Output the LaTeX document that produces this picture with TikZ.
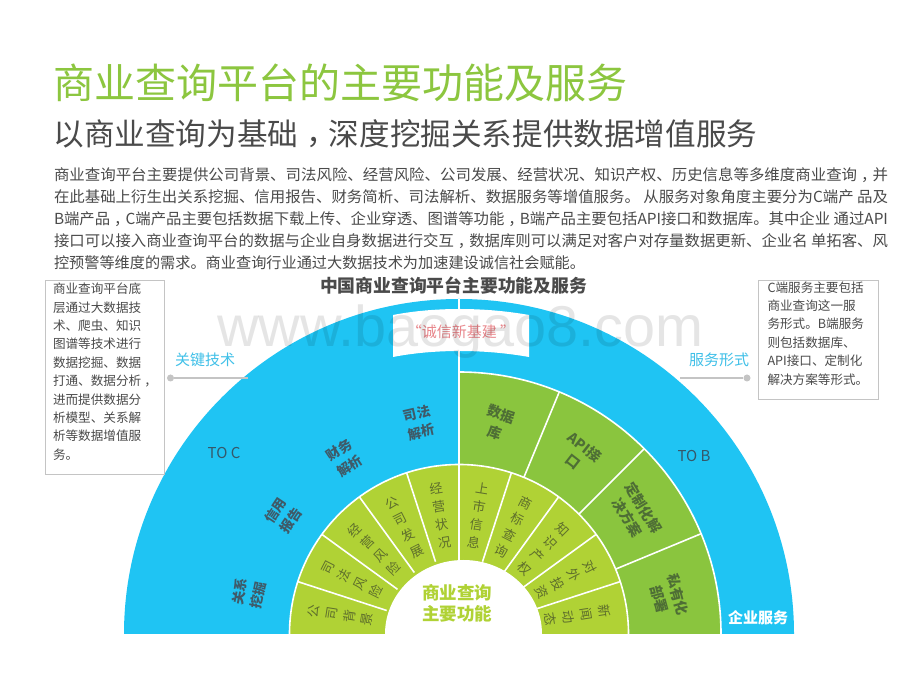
\documentclass[tikz,border=0pt]{standalone}
\usepackage{fontspec}
\setmainfont{Noto Sans CJK SC}
\newfontfamily\wmfont{Liberation Sans}
\newfontfamily\tcfont{Noto Sans CJK TC}
\usetikzlibrary{calc}
\definecolor{skyb}{HTML}{1FC4F3}
\definecolor{lime}{HTML}{B0D235}
\definecolor{leaf}{HTML}{8AC53E}
\definecolor{titleg}{HTML}{8CC63F}
\definecolor{ink}{HTML}{4A4A4A}
\definecolor{boxg}{HTML}{C4C4C4}
\definecolor{innertxt}{HTML}{5E6E2C}
\definecolor{bluetxt}{HTML}{3F5A68}
\definecolor{greentxt}{HTML}{4E6E35}
\definecolor{keyblue}{HTML}{3FC0E8}
\definecolor{totxt}{HTML}{35586A}
\definecolor{redtxt}{HTML}{E8858A}
\newcommand{\fsz}[2]{\fontsize{#1}{#2}\selectfont}
\newcommand{\fitline}[2][834pt]{\resizebox{#1}{\height}{#2}}
\newcommand{\cma}{\raisebox{-0.28em}[0pt][0pt]{\tcfont ，}}
\tikzset{
  x=1pt,y=1pt,
  txt/.style={inner sep=0pt,outer sep=0pt,text=ink},
  bodytxt/.style={txt,anchor=north west,align=left,font=\fsz{15.2}{22}},
  sidetxt/.style={txt,anchor=north west,align=left,font=\fsz{12.6}{18.4}},
  sidebox/.style={draw=boxg,line width=0.9pt,fill=white,inner sep=0pt,anchor=north west},
  radial/.style={inner sep=0pt,align=center,text=innertxt,font=\fsz{13}{18}},
  bluelab/.style={inner sep=0pt,align=center,text=bluetxt,font=\fsz{13.5}{19}\bfseries},
  greenlab/.style={inner sep=0pt,align=center,text=greentxt,font=\fsz{14}{19}\bfseries},
  sepline/.style={white,line width=1.6pt},
  lead/.style={boxg,line width=1.2pt},
  leaddot/.style={circle,fill=boxg,minimum size=7pt,inner sep=0pt},
  keylab/.style={inner sep=0pt,text=keyblue,font=\fsz{15}{18}},
  toto/.style={inner sep=0pt,text=totxt,font=\fsz{15}{18}},
}
\newcommand{\ringsector}[5]{% start, end, r1, r2, colour
  \fill[#5] (#1:#4pt) arc[start angle=#1,end angle=#2,radius=#4pt] -- (#2:#3pt) arc[start angle=#2,end angle=#1,radius=#3pt] -- cycle;}
\begin{document}
\begin{tikzpicture}
\useasboundingbox (0,0) rectangle (920,690);
\fill[white] (0,0) rectangle (920,690);
% headings
\node[txt,anchor=west,text=titleg,font=\fsz{41}{48}] (title) at (53,607) {商业查询平台的主要功能及服务};
\node[txt,anchor=west,font=\fsz{30.6}{36}] (subtitle) at (53.5,556.5) {以商业查询为基础\cma 深度挖掘关系提供数据增值服务};
\node[bodytxt] (body) at (54,522) {\fitline{商业查询平台主要提供公司背景、司法风险、经营风险、公司发展、经营状况、知识产权、历史信息等多维度商业查询\cma 并}\\
\fitline{在此基础上衍生出关系挖掘、信用报告、财务简析、司法解析、数据服务等增值服务。 从服务对象角度主要分为C端产 品及}\\
\fitline{B端产品\cma C端产品主要包括数据下载上传、企业穿透、图谱等功能\cma B端产品主要包括API接口和数据库。其中企业 通过API}\\
\fitline{接口可以接入商业查询平台的数据与企业自身数据进行交互\cma 数据库则可以满足对客户对存量数据更新、企业名 单拓客、风}\\
\fitline[531pt]{控预警等维度的需求。商业查询行业通过大数据技术为加速建设诚信社会赋能。}};
\node[txt,font=\fsz{17.8}{20}\bfseries] (chart) at (453.5,404) {中国商业查询平台主要功能及服务};
% fan
\coordinate (c) at (459,56);
\begin{scope}[shift={(c)}]
  \ringsector{0}{180}{169.5}{335}{skyb}
  \foreach \a in {67.5,45,22.5,0}{
    \pgfmathsetmacro{\b}{\a+22.5}
    \ringsector{\a}{\b}{169.5}{262}{leaf}
  }
  \ringsector{0}{180}{70}{169.5}{lime}
  \fill[white] (4.5,0) ellipse [x radius=78.5pt,y radius=74pt];
  % separators
  \draw[sepline] (90:335pt) -- (90:74pt);
  \foreach \a in {67.5,45,22.5} \draw[sepline] (\a:169.5pt) -- (\a:262pt);
  \draw[sepline] (0:262pt) arc[start angle=0,end angle=90,radius=262pt];
  \draw[sepline] (0:169.5pt) arc[start angle=0,end angle=180,radius=169.5pt];
  \foreach \a in {18,36,54,72,108,126,144,162}
    \draw[sepline] (\a:169.5pt) -- (\a:76pt);
  % banner
  \fill[white] (-66,319) .. controls (-25,327) and (25,327) .. (70,319) -- (70,277) .. controls (25,285) and (-25,285) .. (-66,277) -- cycle;
  \node[inner sep=0pt,text=redtxt,font=\fsz{15}{18}] (banner) at (2,302) {“诚信新基建 ”};
  % inner ring
  \node[radial,rotate=81] (i1) at (171:120pt) {公\\司\\背\\景};
  \node[radial,rotate=63] (i2) at (153:120pt) {司\\法\\风\\险};
  \node[radial,rotate=45] (i3) at (135:120pt) {经\\营\\风\\险};
  \node[radial,rotate=27] (i4) at (117:120pt) {公\\司\\发\\展};
  \node[radial,rotate=9] (i5) at (99:120pt) {经\\营\\状\\况};
  \node[radial,rotate=-9] (i6) at (81:120pt) {上\\市\\信\\息};
  \node[radial,rotate=-27] (i7) at (63:120pt) {商\\标\\查\\询};
  \node[radial,rotate=-45] (i8) at (45:120pt) {知\\识\\产\\权};
  \node[radial,rotate=-63] (i9) at (27:120pt) {对\\外\\投\\资};
  \node[radial,rotate=-81] (i10) at (9:120pt) {新\\闻\\动\\态};
  % blue labels
  \node[bluelab,rotate=78.75] (b1) at (169:214pt) {关系\\挖掘};
  \node[bluelab,rotate=56.25] (b2) at (146:212pt) {信用\\报告};
  \node[bluelab,rotate=33.75] (b3) at (123:210pt) {财务\\解析};
  \node[bluelab,rotate=13] (b4) at (100.7:215pt) {司法\\解析};
  % green labels
  \node[greenlab,rotate=-18] (g1) at (79.5:214.5pt) {数据\\库};
  \node[greenlab,rotate=-38] (g2) at (56.3:216pt) {API接\\口};
  \node[greenlab,rotate=-59] (g3) at (34.5:214pt) {定制化解\\决方案};
  \node[greenlab,rotate=-75] (g4) at (10:213pt) {私有化\\部署};
\end{scope}
\node[inner sep=0pt,align=center,text=lime,font=\fsz{17.5}{21}\bfseries] (core) at (457,87) {商业查询\\主要功能};
\node[toto] (toc) at (224,237) {TO C};
\node[toto] (tob) at (694,234) {TO B};
\node[inner sep=0pt,text=white,font=\fsz{15}{18}\bfseries] (svc) at (758,72) {企业服务};
% side boxes
\node[sidebox,minimum width=119pt,minimum height=194pt] (lbox) at (44.5,410) {};
\node[sidebox,minimum width=120pt,minimum height=119.5pt] (rbox) at (758,410) {};
\node[sidetxt] (ltxt) at (53,407) {商业查询平台底\\层通过大数据技\\术、爬虫、知识\\图谱等技术进行\\数据挖掘、数据\\打通、数据分析\cma\\进而提供数据分\\析模型、关系解\\析等数据增值服\\务。};
\node[sidetxt] (rtxt) at (767.5,408.5) {C端服务主要包括\\商业查询这一服\\务形式。B端服务\\则包括数据库、\\API接口、定制化\\解决方案等形式。};
% leaders
\node[leaddot] (ld) at (170.5,312) {};
\coordinate (le) at (248,312);
\draw[lead] (ld) -- (le);
\node[leaddot] (rd) at (747,312) {};
\coordinate (re) at (680,312);
\draw[lead] (rd) -- (re);
\node[keylab] (lk) at (205,330) {关键技术};
\node[keylab] (rk) at (719,330) {服务形式};
% watermark
\node[inner sep=0pt,text=black,text opacity=0.1,font=\wmfont\fsz{57.6}{66}] (wm) at (460.5,358) {www.baogao8.com};
\end{tikzpicture}
\end{document}
